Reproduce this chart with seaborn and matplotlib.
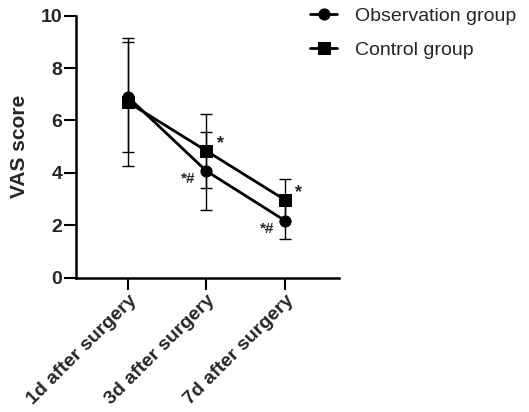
import matplotlib
matplotlib.use('Agg')
import matplotlib.pyplot as plt
import seaborn as sns
import numpy as np
import pandas as pd

sns.set_theme(style='ticks')
plt.rcParams['font.family'] = ['Liberation Sans', 'DejaVu Sans']

# ---------------------------------------------------------------------------
# Data
# ---------------------------------------------------------------------------
timepoints = ['1d after surgery', '3d after surgery', '7d after surgery']
groups = ['Observation group', 'Control group']
obs_mean = [6.9, 4.07, 2.18]
obs_sd = [2.1, 1.5, 0.7]
ctrl_mean = [6.7, 4.84, 2.97]
ctrl_sd = [2.45, 1.42, 0.8]
obs_marks = ['', '*#', '*#']
ctrl_marks = ['', '*', '*']

pos = np.arange(len(timepoints))
df = pd.DataFrame({
    'pos': np.concatenate([pos, pos]),
    'mean': obs_mean + ctrl_mean,
    'sd': obs_sd + ctrl_sd,
    'group': [groups[0]] * 3 + [groups[1]] * 3,
})

fig = plt.figure(figsize=(5.29, 4.12), dpi=100)
ax = fig.add_axes([0.1437, 0.326, 0.4973, 0.636])

# error bars (SD) first so markers sit on top
for g in groups:
    sub = df[df['group'] == g]
    ax.errorbar(sub['pos'], sub['mean'], yerr=sub['sd'], fmt='none',
                ecolor='black', elinewidth=1.0, capsize=4, capthick=1.0, zorder=2)

sns.lineplot(data=df, x='pos', y='mean', hue='group', style='group',
             markers={groups[0]: 'o', groups[1]: 's'}, dashes=False,
             palette={groups[0]: 'black', groups[1]: 'black'},
             markersize=8, linewidth=2, markeredgecolor='black',
             ax=ax, zorder=3)

# significance marks
for i in pos:
    if ctrl_marks[i]:
        ax.annotate(ctrl_marks[i], (pos[i], ctrl_mean[i]), xytext=(10, 5),
                    textcoords='offset points', ha='center', va='center',
                    fontsize=13, fontweight='bold')
    if obs_marks[i]:
        ax.annotate(obs_marks[i], (pos[i], obs_mean[i]), xytext=(-13, -6),
                    textcoords='offset points', ha='center', va='center',
                    fontsize=11, fontweight='bold')

ax.set_xlim(-0.66, 2.69)
ax.set_ylim(0, 10)
ax.set_yticks([0, 2, 4, 6, 8, 10])
ax.set_xticks(pos)
ax.set_xticklabels(timepoints, rotation=45, ha='right', rotation_mode='anchor',
                   fontsize=14, fontweight='bold')
for lbl in ax.get_yticklabels():
    lbl.set_fontsize(14)
    lbl.set_fontweight('bold')
ax.set_xlabel('')
ax.set_ylabel('VAS score', fontsize=15, fontweight='bold', labelpad=8)

sns.despine(ax=ax)
for s in ['left', 'bottom']:
    ax.spines[s].set_linewidth(1.8)
    ax.spines[s].set_color('black')
ax.tick_params(axis='both', width=1.5, length=8.5, color='black', pad=1.5)

handles, labels = ax.get_legend_handles_labels()
ax.legend(handles, labels, loc='upper left', bbox_to_anchor=(0.553, 1.025),
          bbox_transform=fig.transFigure, frameon=False, fontsize=14,
          handlelength=1.4, labelspacing=0.85, handletextpad=0.9)

fig.savefig('out.png', dpi=100)
